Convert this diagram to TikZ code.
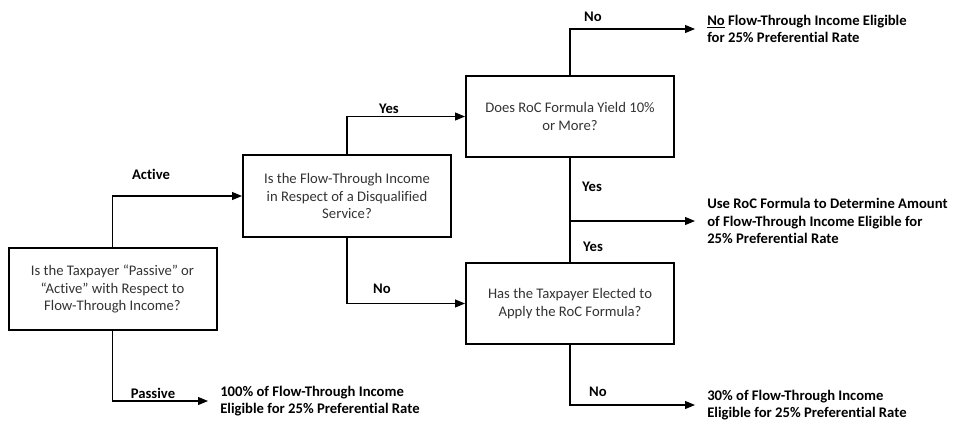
\documentclass[tikz,border=0pt]{standalone}
\usepackage{fontspec}
\setmainfont{Carlito}[Ligatures=NoCommon]
\usetikzlibrary{arrows.meta}

\tikzset{
    box/.style={draw, line width=1.5pt, minimum width=156pt, minimum height=61pt, align=center, text=black!80, font=\fontsize{11}{13.2}\selectfont},
    outcome/.style={anchor=west, align=left, inner xsep=9pt, font=\fontsize{11}{13}\selectfont\bfseries},
    lbl/.style={font=\fontsize{11}{13}\selectfont\bfseries},
    conn/.style={line width=0.8pt, -{Triangle[length=7.5pt,width=6pt]}}
}

\begin{document}
\begin{tikzpicture}[x=0.75pt, y=-0.75pt]
    \useasboundingbox (0,0) rectangle (959,422);

    % Draw the questions
    \node[box] (taxpayer) at (112.5, 289) {Is the Taxpayer “Passive” or\\“Active” with Respect to\\Flow-Through Income?};
    \node[box] (service) at (347, 196) {Is the Flow-Through Income\\in Respect of a Disqualified\\Service?};
    \node[box] (yield) at (570, 116.5) {Does RoC Formula Yield 10\%\\or More?};
    \node[box] (elect) at (570, 303.5) {Has the Taxpayer Elected to\\Apply the RoC Formula?};

    % Add the outcomes
    \node[outcome] (passiveout) at (208, 401) {100\% of Flow-Through Income\\Eligible for 25\% Preferential Rate};
    \node[outcome] (noout) at (695, 29) {\underline{No} Flow-Through Income Eligible\\for 25\% Preferential Rate};
    \node[outcome] (rocout) at (695, 221) {Use RoC Formula to Determine Amount\\of Flow-Through Income Eligible for\\25\% Preferential Rate};
    \node[outcome] (thirtyout) at (695, 405) {30\% of Flow-Through Income\\Eligible for 25\% Preferential Rate};

    % Draw the connectors
    \draw[conn] (taxpayer.north) |- (service.west);
    \draw[conn] (taxpayer.south) |- (passiveout.west);
    \draw[conn] (service.north) |- (yield.west);
    \draw[conn] (service.south) |- (elect.west);
    \draw[conn] (yield.north) |- (noout.west);
    \draw[line width=0.8pt] (yield.south) -- (elect.north);
    \coordinate (split) at (yield.south |- rocout.west);
    \draw[conn] (split) -- (rocout.west);
    \draw[conn] (elect.south) |- (thirtyout.west);

    % Add the labels
    \node[lbl] (active) at (151, 174) {Active};
    \node[lbl] (passive) at (153, 393) {Passive};
    \node[lbl] (yesup) at (389, 109) {Yes};
    \node[lbl] (nodown) at (382, 289) {No};
    \node[lbl] (notop) at (593, 17) {No};
    \node[lbl] (yesa) at (592, 187) {Yes};
    \node[lbl] (yesb) at (593, 247) {Yes};
    \node[lbl] (nobottom) at (598, 392) {No};
\end{tikzpicture}
\end{document}
